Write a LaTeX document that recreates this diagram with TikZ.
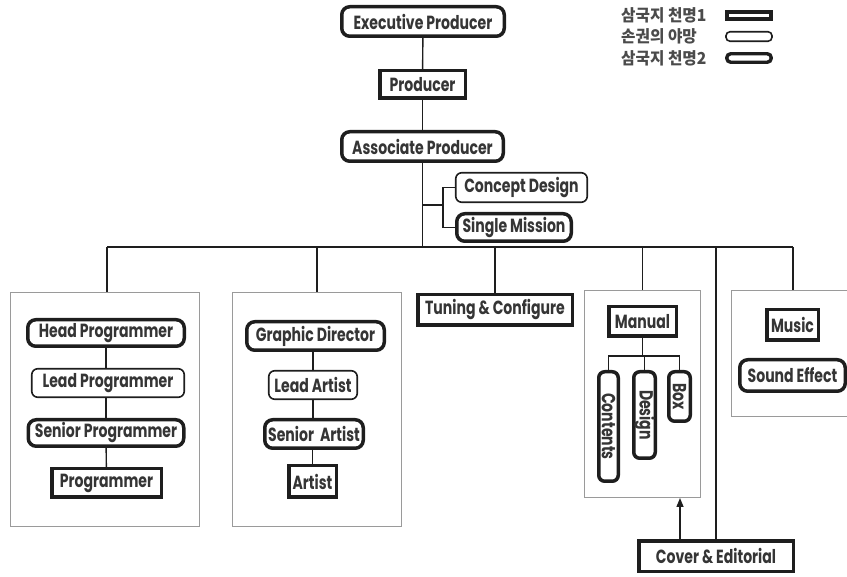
\documentclass[tikz,border=0pt]{standalone}
\usepackage{fontspec}
\setmainfont{Poppins}[FakeStretch=0.74]
\newfontfamily\krfont{Noto Sans CJK KR}[FakeStretch=0.95]
\usetikzlibrary{arrows.meta}
\definecolor{ink}{HTML}{1E1E1E}
\definecolor{frame}{HTML}{9A9A9A}
\tikzset{
  box/.style={draw=ink, fill=white, text=ink!90, inner sep=0pt, align=center,
    font=\bfseries\fontsize{19}{21}\selectfont},
  sqbox/.style={box, rectangle, line width=3.5pt},
  thinbox/.style={box, rounded corners=6pt, line width=1.6pt},
  thickbox/.style={box, rounded corners=8pt, line width=3.5pt},
  group/.style={draw=frame, line width=1.4pt, inner sep=0pt},
  link/.style={draw=ink, line width=1.4pt},
  size/.style 2 args={minimum width=#1, minimum height=#2},
  legtext/.style={text=ink!80, inner sep=0pt, anchor=west,
    font=\krfont\bfseries\fontsize{16.5}{18}\selectfont},
  keybox/.style={draw=ink, fill=white, inner sep=0pt},
}
\begin{document}
\begin{tikzpicture}[x=1pt, y=-1pt]
\useasboundingbox (0,0) rectangle (847,577);

% department frames
\node[group, size={188.6pt}{233.6pt}] (g1) at (105,409.5) {};
\node[group, size={168.6pt}{233.6pt}] (g2) at (317,409.5) {};
\node[group, size={115.6pt}{206.6pt}] (g4) at (642.5,394) {};
\node[group, size={117.6pt}{125.6pt}] (g5) at (790.5,353.5) {};

% production line
\node[thickbox, size={162.5pt}{29.5pt}] (ep) at (423,21.5) {Executive Producer};
\node[sqbox, size={85.5pt}{27.5pt}] (pr) at (422.5,84.5) {Producer};
\node[thickbox, size={161.5pt}{29.5pt}] (ap) at (422.5,146.5) {Associate Producer};
\node[thinbox, size={131.5pt}{29.5pt}] (cd) at (521.5,187.5) {Concept Design};
\node[thickbox, size={114.5pt}{27.5pt}] (sm) at (514,227.5) {Single Mission};

% programming
\node[thickbox, size={156.5pt}{26.5pt}] (hp) at (106,333) {Head Programmer};
\node[thinbox, size={152.5pt}{28.5pt}] (lp) at (108,383) {Lead Programmer};
\node[thickbox, size={155.5pt}{26.5pt}] (sp) at (106,433) {Senior Programmer};
\node[sqbox, size={109.5pt}{28.5pt}] (pg) at (106.5,483) {Programmer};

% art
\node[thickbox, size={137.5pt}{28.5pt}] (gd) at (315.5,336) {Graphic Director};
\node[thinbox, size={88.5pt}{28.5pt}] (la) at (313,385) {Lead Artist};
\node[thickbox, size={98.5pt}{28.5pt}] (sa) at (314,434) {Senior\ \ Artist};
\node[sqbox, size={47.5pt}{31.5pt}] (ar) at (312.5,481.5) {Artist};

% tuning
\node[sqbox, size={154.5pt}{30.5pt}] (tc) at (495,310) {Tuning \& Configure};

% manual
\node[thickbox, rounded corners=6pt, rotate=-90, size={109.5pt}{19.5pt}] (ct) at (608.5,426.5) {Contents};
\node[thickbox, rounded corners=6pt, rotate=-90, size={86.5pt}{21.5pt}] (dg) at (644.5,415) {Design};
\node[thickbox, rounded corners=6pt, rotate=-90, size={49.5pt}{21.5pt}] (bx) at (679.5,396.5) {Box};
\node[sqbox, size={67.5pt}{29.5pt}] (mn) at (642.5,321.5) {Manual};

% sound
\node[sqbox, size={51.5pt}{30.5pt}] (mu) at (792.5,325) {Music};
\node[thickbox, size={105.5pt}{31.5pt}] (se) at (792.5,375.5) {Sound Effect};

% print
\node[sqbox, size={154.5pt}{30.5pt}] (ce) at (716,556) {Cover \& Editorial};

% legend
\node[legtext] (l1) at (621,15) {삼국지 천명1};
\node[legtext] (l2) at (621,36.5) {손권의 야망};
\node[legtext] (l3) at (621,58) {삼국지 천명2};
\node[keybox, line width=3.6pt, size={44pt}{7pt}] (k1) at (749,15.5) {};
\node[keybox, line width=1.6pt, rounded corners=4pt, size={46pt}{9.5pt}] (k2) at (749,36.5) {};
\node[keybox, line width=3.4pt, rounded corners=4pt, size={44.5pt}{8.5pt}] (k3) at (749,58) {};

% connectors
\coordinate (busL) at (107,247);
\coordinate (busR) at (793,247);
\coordinate (br) at (443,205);
\coordinate (mbar) at (642.5,356);

\draw[link] (ep) -- (pr);
\draw[link] (pr) -- (ap);
\draw[link] (ap.south) -- (ap.south |- busL);
\draw[link] (ap.south |- br) -- (br);
\draw[link] (cd.west) -| (br);
\draw[link] (sm.west) -| (br);
\draw[link] (busL) -- (busR);
\draw[link] (busL) -- (busL |- g1.north);
\draw[link] (g2.north |- busL) -- (g2.north);
\draw[link] (tc.north |- busL) -- (tc.north);
\draw[link] (g4.north |- busL) -- (g4.north);
\draw[link] (busR) -- (busR |- g5.north);
\draw[link] (ce.north |- busL) -- (ce.north);
\draw[link, -{Triangle[length=9pt,width=7pt]}] ([xshift=-36pt]ce.north) -- ([xshift=-36pt]ce.north |- g4.south);

\draw[link] (hp) -- (hp |- lp.north);
\draw[link] (hp |- lp.south) -- (sp);
\draw[link] (sp) -- (pg);

\draw[link] (gd.south -| la) -- (la);
\draw[link] (la) -- (la |- sa.north);
\draw[link] (sa.south -| ar) -- (ar);

\draw[link] (mn.south) -- (mbar);
\draw[link] (ct.west) |- (mbar) -| (bx.west);
\draw[link] (dg.west) -- (dg.west |- mbar);
\end{tikzpicture}
\end{document}
